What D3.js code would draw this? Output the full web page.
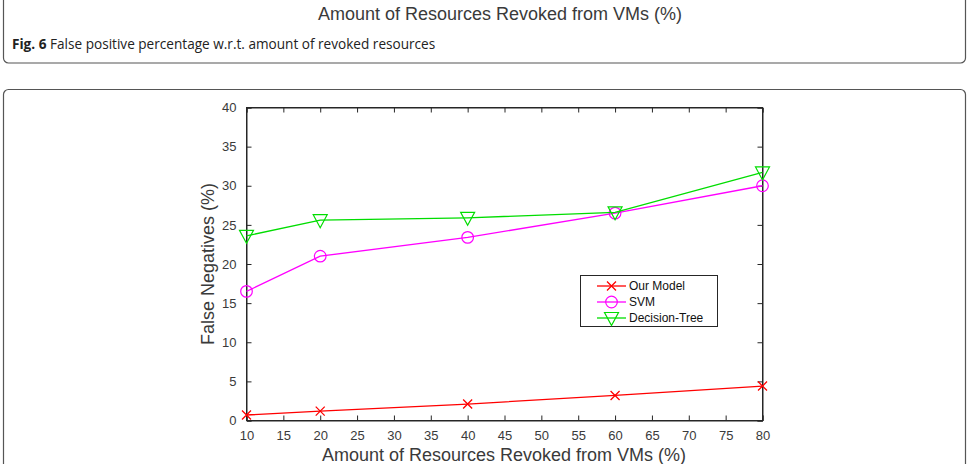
<!DOCTYPE html>
<html><head><meta charset="utf-8">
<script src="https://cdn.jsdelivr.net/npm/d3@7"></script>
<style>body{margin:0;background:#fff}svg{display:block}</style>
</head><body>
<svg id="c" width="970" height="464"></svg>
<script>
const xValues = [10, 20, 40, 60, 80];
const ourModel = [0.7, 1.2, 2.1, 3.2, 4.4];
const svmValues = [16.5, 21.0, 23.4, 26.5, 30.0];
const decisionTree = [23.6, 25.6, 25.9, 26.6, 31.7];
const seriesNames = ["Our Model", "SVM", "Decision-Tree"];
const seriesColors = ["#ff0000", "#ff00ff", "#00dd00"];
const xTicks = [10, 15, 20, 25, 30, 35, 40, 45, 50, 55, 60, 65, 70, 75, 80];
const yTicks = [0, 5, 10, 15, 20, 25, 30, 35, 40];
const xLabel = "Amount of Resources Revoked from VMs (%)";
const yLabel = "False Negatives (%)";
const topTitle = "Amount of Resources Revoked from VMs (%)";
const captionBold = "Fig. 6";
const captionText = "False positive percentage w.r.t. amount of revoked resources";

const svg = d3.select("#c");
const axisColor = "#262626";
const labelColor = "#3a3a3a";
const chartFont = "'Liberation Sans', Arial, sans-serif";
const capFont = "'Open Sans', 'Noto Sans', sans-serif";

// panels
svg.append("rect").attr("x", 3.5).attr("y", -20).attr("width", 962).attr("height", 83)
  .attr("rx", 5).attr("fill", "none").attr("stroke", "#555").attr("stroke-width", 1.2);
svg.append("rect").attr("x", 3.5).attr("y", 89.5).attr("width", 962).attr("height", 400)
  .attr("rx", 5).attr("fill", "none").attr("stroke", "#555").attr("stroke-width", 1.2);

svg.append("text").attr("x", 500).attr("y", 20).attr("text-anchor", "middle")
  .attr("font-family", chartFont).attr("font-size", 18).attr("fill", labelColor).text(topTitle);
const cap = svg.append("text").attr("x", 12).attr("y", 49)
  .attr("font-family", capFont).attr("font-size", 13.6).attr("fill", "#222");
cap.append("tspan").attr("font-weight", "bold").text(captionBold);
cap.append("tspan").text(" " + captionText);

const L = 246.5, R = 762.5, T = 107.5, B = 420.5;
const x = d3.scaleLinear().domain([10, 80]).range([L, R]);
const y = d3.scaleLinear().domain([0, 40]).range([B, T]);

const g = svg.append("g");
g.append("rect").attr("x", L).attr("y", T).attr("width", R - L).attr("height", B - T)
  .attr("fill", "none").attr("stroke", axisColor).attr("stroke-width", 1);

const axB = g.append("g").attr("transform", `translate(0,${B})`)
  .call(d3.axisBottom(x).tickValues(xTicks).tickSize(-5).tickPadding(10));
const axT = g.append("g").attr("transform", `translate(0,${T})`)
  .call(d3.axisTop(x).tickValues(xTicks).tickSize(-5).tickFormat(""));
const axL = g.append("g").attr("transform", `translate(${L},0)`)
  .call(d3.axisLeft(y).tickValues(yTicks).tickSize(-5).tickPadding(10));
const axR = g.append("g").attr("transform", `translate(${R},0)`)
  .call(d3.axisRight(y).tickValues(yTicks).tickSize(-5).tickFormat(""));
[axB, axT, axL, axR].forEach(a => {
  a.select(".domain").attr("stroke", axisColor);
  a.selectAll(".tick line").attr("stroke", axisColor);
  a.selectAll("text").attr("font-family", chartFont).attr("font-size", 13).attr("fill", labelColor);
});

svg.append("text").attr("x", 504).attr("y", 461).attr("text-anchor", "middle")
  .attr("font-family", chartFont).attr("font-size", 18).attr("fill", labelColor).text(xLabel);
svg.append("text").attr("transform", `translate(214,${(T + B) / 2}) rotate(-90)`)
  .attr("text-anchor", "middle").attr("font-family", chartFont).attr("font-size", 18)
  .attr("fill", labelColor).text(yLabel);

const series = [ourModel, svmValues, decisionTree];
const line = d3.line().x((d, i) => x(xValues[i])).y(d => y(d));

function drawMarker(sel, type, cx, cy, color) {
  if (type === 0) {
    const s = 4.5;
    sel.append("path").attr("d", `M${cx - s},${cy - s}L${cx + s},${cy + s}M${cx - s},${cy + s}L${cx + s},${cy - s}`)
      .attr("stroke", color).attr("stroke-width", 1.3).attr("fill", "none");
  } else if (type === 1) {
    sel.append("circle").attr("cx", cx).attr("cy", cy).attr("r", 5.8)
      .attr("stroke", color).attr("stroke-width", 1.2).attr("fill", "none");
  } else {
    const w = 7, h = 6.5;
    sel.append("path").attr("d", `M${cx - w},${cy - h + 1}L${cx + w},${cy - h + 1}L${cx},${cy + h + 1}Z`)
      .attr("stroke", color).attr("stroke-width", 1.2).attr("fill", "none");
  }
}

series.forEach((vals, k) => {
  g.append("path").datum(vals).attr("d", line).attr("fill", "none")
    .attr("stroke", seriesColors[k]).attr("stroke-width", 1.3);
  const mg = g.append("g");
  vals.forEach((v, i) => drawMarker(mg, k, x(xValues[i]), y(v), seriesColors[k]));
});

// legend
const lg = svg.append("g");
lg.append("rect").attr("x", 580.5).attr("y", 275.5).attr("width", 137).attr("height", 51)
  .attr("fill", "#fff").attr("stroke", axisColor).attr("stroke-width", 1);
seriesNames.forEach((n, k) => {
  const yy = 286 + k * 16;
  lg.append("line").attr("x1", 597).attr("x2", 626).attr("y1", yy).attr("y2", yy)
    .attr("stroke", seriesColors[k]).attr("stroke-width", 1.3);
  drawMarker(lg, k, 611.5, yy, seriesColors[k]);
  lg.append("text").attr("x", 629).attr("y", yy + 4).attr("font-family", chartFont)
    .attr("font-size", 12).attr("fill", "#111").text(n);
});
</script>
</body></html>
